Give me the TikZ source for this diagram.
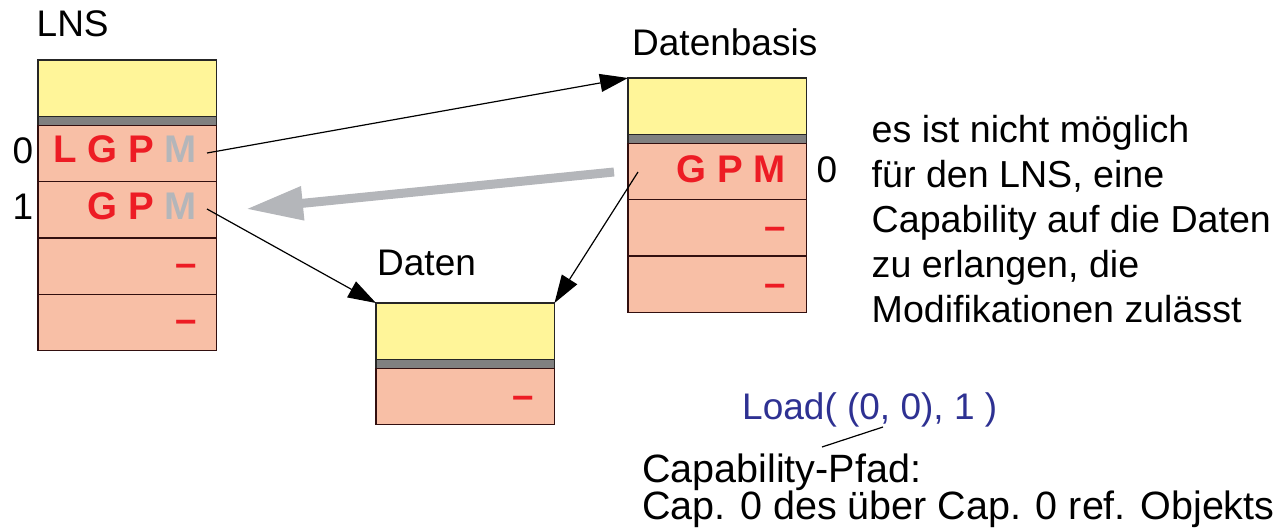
\documentclass[tikz,border=0pt]{standalone}
\usepackage{fontspec}
\setmainfont{Liberation Sans}
\usetikzlibrary{arrows.meta}
\definecolor{boxyellow}{RGB}{255,245,153}
\definecolor{boxsalmon}{RGB}{248,191,166}
\definecolor{bandgray}{RGB}{128,128,128}
\definecolor{capred}{RGB}{237,28,36}
\definecolor{capgray}{RGB}{180,182,186}
\definecolor{loadblue}{RGB}{46,49,146}
\definecolor{arrowgray}{RGB}{180,182,186}
\definecolor{rowline}{RGB}{50,15,15}
\begin{document}
\begin{tikzpicture}[x=1pt,y=-1pt,
  cell/.style={inner sep=0pt, outer sep=0pt, minimum width=178.5pt, anchor=north west, line width=1.3pt},
  yelcell/.style={cell, draw=black!85, fill=boxyellow, minimum height=56.5pt},
  bandcell/.style={cell, draw=black!85, fill=bandgray, minimum height=9pt},
  rowcell/.style={cell, draw=rowline, fill=boxsalmon, minimum height=56.3pt},
  lbl/.style={inner sep=0pt, anchor=base west, font=\fontsize{37}{45}\selectfont},
  idx/.style={inner sep=0pt, anchor=base east, font=\fontsize{37}{45}\selectfont},
  caps/.style={inner sep=0pt, anchor=base east, text=capred, font=\fontsize{38.5}{45}\selectfont\bfseries},
  note/.style={inner sep=0pt, anchor=north west, align=left, font=\fontsize{37.6}{45}\selectfont},
  link/.style={line width=1.2pt, -{Triangle[length=28pt,width=18pt]}},
  back/.style={line width=9pt, draw=arrowgray, -{Triangle[length=57pt,width=32pt]}},
]
\useasboundingbox (0,0) rectangle (1281,529);

% LNS
\node[lbl] (lnsTitle) at (36.5,37) {LNS};
\node[yelcell] (lnsY) at (38,60) {};
\node[bandcell] (lnsB) at (38,116.5) {};
\node[rowcell] (lns0) at (38,125.5) {};
\node[rowcell] (lns1) at (38,181.8) {};
\node[rowcell] (lns2) at (38,238.1) {};
\node[rowcell] (lns3) at (38,294.4) {};
\node[caps] (lnsCap0) at (197,163) {L G P \textcolor{capgray}{M}};
\node[caps] (lnsCap1) at (197,219.5) {G P \textcolor{capgray}{M}};
\node[caps] (lnsCap2) at (197,276) {–};
\node[caps] (lnsCap3) at (197,332.5) {–};
\node[idx] (lnsIdx0) at (33.5,164) {0};
\node[idx] (lnsIdx1) at (33.5,220) {1};

% Datenbasis
\node[lbl] (dbTitle) at (632,56) {Datenbasis};
\node[yelcell] (dbY) at (628,78) {};
\node[bandcell] (dbB) at (628,134.5) {};
\node[rowcell] (db0) at (628,143.5) {};
\node[rowcell] (db1) at (628,199.8) {};
\node[rowcell] (db2) at (628,256.1) {};
\node[caps] (dbCap0) at (786,183) {G P M};
\node[caps] (dbCap1) at (786,239.5) {–};
\node[caps] (dbCap2) at (786,296) {–};
\node[lbl] (dbIdx0) at (816.5,183) {0};

% Daten
\node[lbl] (datTitle) at (377,275) {Daten};
\node[yelcell] (datY) at (376,303) {};
\node[bandcell] (datB) at (376,359.5) {};
\node[rowcell] (dat0) at (376,368.5) {};
\node[caps] (datCap0) at (534,408) {–};

% explanatory text
\node[note] (remark) at (871.5,115) {es ist nicht möglich\\für den LNS, eine\\Capability auf die Daten\\zu erlangen, die\\Modifikationen zulässt};
\node[lbl, text=loadblue] (load) at (742,419) {Load( (0, 0), 1 )};
\node[note, font=\fontsize{39.5}{37}\selectfont] (path) at (642,454) {Capability-Pfad:\\Cap. 0 des über Cap. 0 ref. Objekts};

% connectors
\coordinate (lnsOut0) at (207,153);
\coordinate (lnsOut1) at (207,209);
\coordinate (dbOut0) at (638,172);
\coordinate (backStart) at (614,172);
\coordinate (backEnd) at (246,209);
\coordinate (loadPt) at (883,427);
\coordinate (pathPt) at (822,447);
\draw[link] (lnsOut0) -- (dbY.north west);
\draw[link] (lnsOut1) -- (datY.north west);
\draw[link] (dbOut0) -- (datY.north east);
\draw[back] (backStart) -- (backEnd);
\draw[line width=1.2pt] (loadPt) -- (pathPt);
\end{tikzpicture}
\end{document}
